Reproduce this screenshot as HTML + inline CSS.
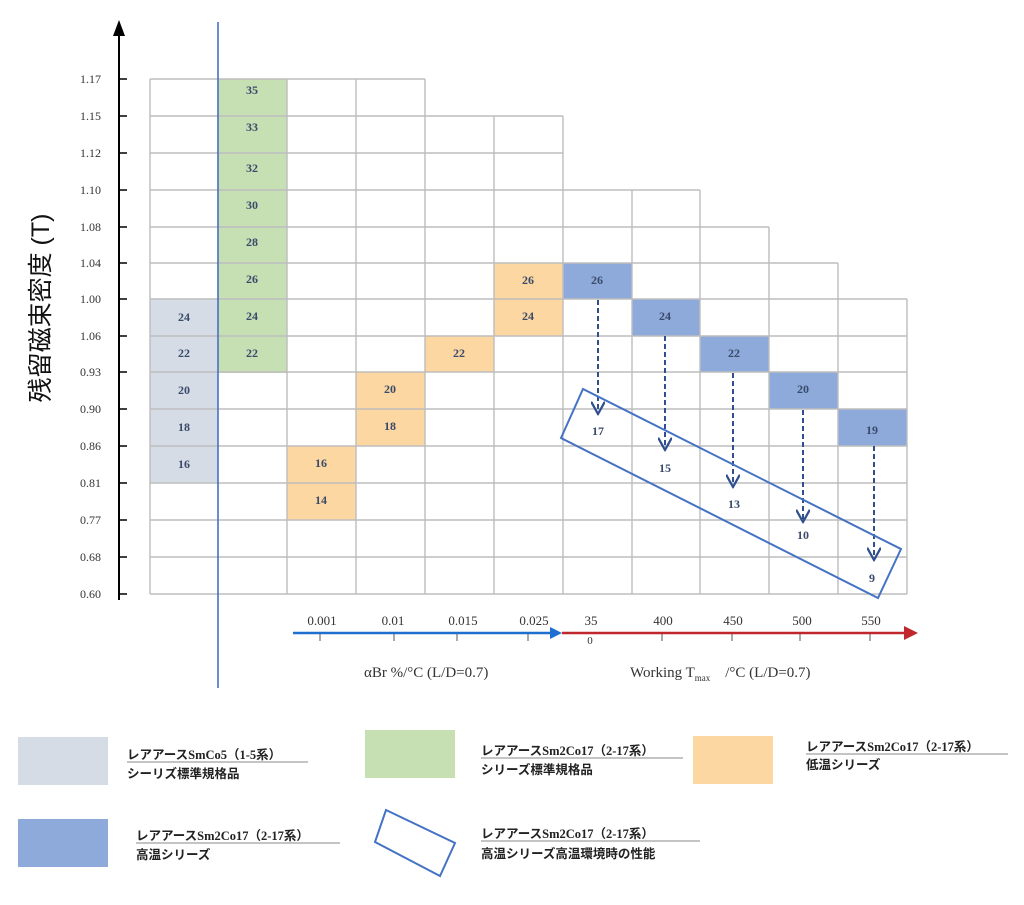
<!DOCTYPE html>
<html><head><meta charset="utf-8"><style>
html,body{margin:0;padding:0;background:#fff;}
svg{display:block;}
.v{font-family:"Liberation Serif",serif;font-weight:bold;font-size:12px;fill:#3a4a6a;text-anchor:middle;}
.ax{font-family:"Liberation Serif",serif;font-size:12px;fill:#333;}
.lg{font-family:"Liberation Serif","Noto Sans CJK JP",sans-serif;font-weight:bold;font-size:12.5px;fill:#222;}
</style></head><body>
<svg width="1024" height="905" viewBox="0 0 1024 905" xmlns="http://www.w3.org/2000/svg">
<defs>
<marker id="ah" viewBox="0 0 10 10" refX="9" refY="5" markerWidth="14" markerHeight="14" orient="auto" markerUnits="userSpaceOnUse">
<path d="M0,0 L9,5 L0,10" fill="none" stroke="#2f4f8f" stroke-width="1.6"/></marker>
</defs>
<rect x="150" y="299" width="68" height="184" fill="#d5dce6"/>
<rect x="218" y="79" width="69" height="294" fill="#c6e0b4"/>
<rect x="287" y="446" width="69" height="74" fill="#fcd7a1"/>
<rect x="356" y="372" width="69" height="74" fill="#fcd7a1"/>
<rect x="425" y="336" width="69" height="36" fill="#fcd7a1"/>
<rect x="494" y="263" width="69" height="73" fill="#fcd7a1"/>
<rect x="563" y="263" width="69" height="36" fill="#8eaadb"/>
<rect x="632" y="299" width="68" height="37" fill="#8eaadb"/>
<rect x="700" y="336" width="69" height="36" fill="#8eaadb"/>
<rect x="769" y="372" width="69" height="37" fill="#8eaadb"/>
<rect x="838" y="409" width="69" height="37" fill="#8eaadb"/>
<g stroke="#bdbdbd" stroke-width="1.4" fill="none">
<line x1="150" y1="79" x2="425" y2="79"/>
<line x1="150" y1="116" x2="563" y2="116"/>
<line x1="150" y1="153" x2="563" y2="153"/>
<line x1="150" y1="190" x2="700" y2="190"/>
<line x1="150" y1="227" x2="769" y2="227"/>
<line x1="150" y1="263" x2="838" y2="263"/>
<line x1="150" y1="299" x2="907" y2="299"/>
<line x1="150" y1="336" x2="907" y2="336"/>
<line x1="150" y1="372" x2="907" y2="372"/>
<line x1="150" y1="409" x2="907" y2="409"/>
<line x1="150" y1="446" x2="907" y2="446"/>
<line x1="150" y1="483" x2="907" y2="483"/>
<line x1="150" y1="520" x2="907" y2="520"/>
<line x1="150" y1="557" x2="907" y2="557"/>
<line x1="150" y1="594" x2="907" y2="594"/>
<line x1="150" y1="79" x2="150" y2="594"/>
<line x1="287" y1="79" x2="287" y2="594"/>
<line x1="356" y1="79" x2="356" y2="594"/>
<line x1="425" y1="79" x2="425" y2="594"/>
<line x1="494" y1="116" x2="494" y2="594"/>
<line x1="563" y1="116" x2="563" y2="594"/>
<line x1="632" y1="190" x2="632" y2="594"/>
<line x1="700" y1="190" x2="700" y2="594"/>
<line x1="769" y1="227" x2="769" y2="594"/>
<line x1="838" y1="263" x2="838" y2="594"/>
<line x1="907" y1="299" x2="907" y2="594"/>
</g>
<line x1="218" y1="22" x2="218" y2="688" stroke="#4472c4" stroke-width="1.6"/>
<line x1="119" y1="32" x2="119" y2="600" stroke="#000" stroke-width="2"/>
<path d="M113,36 L119,20 L125,36 Z" fill="#000"/>
<g stroke="#000" stroke-width="1.5">
<line x1="119" y1="79" x2="127" y2="79"/><line x1="119" y1="116" x2="127" y2="116"/><line x1="119" y1="153" x2="127" y2="153"/><line x1="119" y1="190" x2="127" y2="190"/><line x1="119" y1="227" x2="127" y2="227"/><line x1="119" y1="263" x2="127" y2="263"/><line x1="119" y1="299" x2="127" y2="299"/><line x1="119" y1="336" x2="127" y2="336"/><line x1="119" y1="372" x2="127" y2="372"/><line x1="119" y1="409" x2="127" y2="409"/><line x1="119" y1="446" x2="127" y2="446"/><line x1="119" y1="483" x2="127" y2="483"/><line x1="119" y1="520" x2="127" y2="520"/><line x1="119" y1="557" x2="127" y2="557"/><line x1="119" y1="594" x2="127" y2="594"/>
</g>
<g class="ax" text-anchor="end">
<text x="101" y="83">1.17</text><text x="101" y="120">1.15</text><text x="101" y="157">1.12</text><text x="101" y="194">1.10</text><text x="101" y="231">1.08</text><text x="101" y="267">1.04</text><text x="101" y="303">1.00</text><text x="101" y="340">1.06</text><text x="101" y="376">0.93</text><text x="101" y="413">0.90</text><text x="101" y="450">0.86</text><text x="101" y="487">0.81</text><text x="101" y="524">0.77</text><text x="101" y="561">0.68</text><text x="101" y="598">0.60</text>
</g>
<text transform="translate(49,308) rotate(-90)" text-anchor="middle" font-family="Liberation Sans,'Noto Sans CJK JP',sans-serif" font-size="25" fill="#111">残留磁束密度 (T)</text>
<g class="v">
<text x="184" y="321">24</text><text x="184" y="357">22</text><text x="184" y="394">20</text><text x="184" y="431">18</text><text x="184" y="468">16</text>
<text x="252" y="94">35</text><text x="252" y="131">33</text><text x="252" y="172">32</text><text x="252" y="209">30</text><text x="252" y="246">28</text><text x="252" y="283">26</text><text x="252" y="320">24</text><text x="252" y="357">22</text>
<text x="321" y="467">16</text><text x="321" y="504">14</text>
<text x="390" y="393">20</text><text x="390" y="430">18</text>
<text x="459" y="357">22</text>
<text x="528" y="284">26</text><text x="528" y="320">24</text>
<text x="597" y="284">26</text><text x="665" y="320">24</text><text x="734" y="357">22</text><text x="803" y="393">20</text><text x="872" y="434">19</text>
<text x="598" y="435">17</text><text x="665" y="472">15</text><text x="734" y="508">13</text><text x="803" y="539">10</text><text x="872" y="582">9</text>
</g>
<g stroke="#2f4f8f" stroke-width="2" stroke-dasharray="5,3" fill="none" marker-end="url(#ah)">
<line x1="598" y1="300" x2="598" y2="414"/>
<line x1="665" y1="336" x2="665" y2="450"/>
<line x1="733" y1="373" x2="733" y2="487"/>
<line x1="803" y1="410" x2="803" y2="522"/>
<line x1="874" y1="446" x2="874" y2="560"/>
</g>
<polygon points="561,438 583,389 901,549 878,598" fill="none" stroke="#4472c4" stroke-width="2"/>
<line x1="293" y1="633" x2="552" y2="633" stroke="#1f6fd1" stroke-width="2.5"/>
<path d="M550,627 L562,633 L550,639 Z" fill="#1f6fd1"/>
<line x1="562" y1="633" x2="906" y2="633" stroke="#c0262c" stroke-width="2.5"/>
<path d="M904,626 L918,633 L904,640 Z" fill="#c0262c"/>
<g stroke="#555" stroke-width="1">
<line x1="320" y1="634" x2="320" y2="641"/><line x1="394" y1="634" x2="394" y2="641"/><line x1="457" y1="634" x2="457" y2="641"/><line x1="528" y1="634" x2="528" y2="641"/>
<line x1="662" y1="634" x2="662" y2="641"/><line x1="732" y1="634" x2="732" y2="641"/><line x1="800" y1="634" x2="800" y2="641"/><line x1="870" y1="634" x2="870" y2="641"/>
</g>
<g class="ax" text-anchor="middle" style="font-size:13px">
<text x="322" y="625">0.001</text><text x="393" y="625">0.01</text><text x="463" y="625">0.015</text><text x="534" y="625">0.025</text><text x="591" y="625">35</text><text x="663" y="625">400</text><text x="733" y="625">450</text><text x="802" y="625">500</text><text x="871" y="625">550</text>
<text x="590" y="644" style="font-size:11px">0</text>
</g>
<text x="364" y="677" class="ax" style="font-size:15px">αBr  %/°C (L/D=0.7)</text>
<text x="630" y="677" class="ax" style="font-size:15px" xml:space="preserve">Working T<tspan style="font-size:9px" dy="4">max</tspan><tspan dy="-4">    /°C (L/D=0.7)</tspan></text>
<rect x="18" y="737" width="90" height="48" fill="#d5dce6"/>
<rect x="365" y="730" width="90" height="48" fill="#c6e0b4"/>
<rect x="693" y="736" width="80" height="48" fill="#fcd7a1"/>
<rect x="18" y="819" width="90" height="48" fill="#8eaadb"/>
<polygon points="386,810 455,843 440,876 375,842" fill="none" stroke="#4472c4" stroke-width="2"/>
<g class="lg">
<text x="127" y="759">レアアースSmCo5（1-5系）</text><text x="127" y="778">シーリズ標準規格品</text>
<text x="481" y="755">レアアースSm2Co17（2-17系）</text><text x="481" y="774">シリーズ標準規格品</text>
<text x="806" y="751">レアアースSm2Co17（2-17系）</text><text x="806" y="769">低温シリーズ</text>
<text x="136" y="840">レアアースSm2Co17（2-17系）</text><text x="136" y="859">高温シリーズ</text>
<text x="481" y="838">レアアースSm2Co17（2-17系）</text><text x="481" y="858">高温シリーズ高温環境時の性能</text>
</g>
<g stroke="#888" stroke-width="1">
<line x1="127" y1="762" x2="308" y2="762"/><line x1="481" y1="758" x2="683" y2="758"/><line x1="806" y1="754" x2="1008" y2="754"/><line x1="136" y1="843" x2="340" y2="843"/><line x1="481" y1="841" x2="700" y2="841"/>
</g>
</svg>
</body></html>
